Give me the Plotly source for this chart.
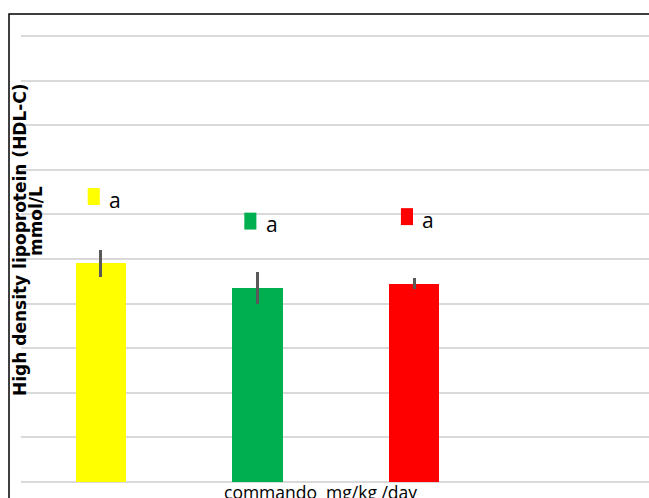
import plotly.graph_objects as go

# ---- data ----
groups = ["Control", "Dose 1", "Dose 2"]
hdl_values = [0.98, 0.87, 0.89]
hdl_errors = [0.06, 0.07, 0.025]
sig_letters = ["a", "a", "a"]
bar_colors = ["#FFFF00", "#00B050", "#FF0000"]
y_title_line1 = "High density lipoprotein (HDL-C)"
y_title_line2 = "mmol/L"
x_title = "commando  mg/kg /day"

# ---- style ----
LABEL_OFFSET = 0.30
BAR_WIDTH = 0.32

xpos = list(range(len(groups)))

fig = go.Figure()
fig.add_trace(go.Bar(
    x=xpos, y=hdl_values, width=BAR_WIDTH,
    marker=dict(color=bar_colors, line=dict(width=0)),
    error_y=dict(type="data", array=hdl_errors, visible=True,
                 color="#595959", thickness=3, width=0),
    showlegend=False, hoverinfo="skip",
))

shapes = []
annotations = []
for i, (v, lt, c) in enumerate(zip(hdl_values, sig_letters, bar_colors)):
    ly = v + LABEL_OFFSET
    shapes.append(dict(type="rect", xref="x", yref="y",
                       x0=i - 0.084, x1=i - 0.007,
                       y0=ly - 0.038, y1=ly + 0.038,
                       fillcolor=c, line=dict(width=0), layer="above"))
    annotations.append(dict(x=i + 0.09, y=ly, xref="x", yref="y",
                            text=lt, showarrow=False, yshift=-3,
                            font=dict(family="Open Sans", size=21, color="black"),
                            xanchor="center", yanchor="middle"))

# plot area: 31..487 px vertically (456 px), width 628 px
PH = 456.0
def py(pix):  # window pixel row -> paper y
    return (487.0 - pix) / PH

shapes.append(dict(type="rect", xref="paper", yref="paper",
                   x0=-0.0191, x1=1.1, y0=-0.2, y1=py(14),
                   line=dict(color="black", width=1.5), fillcolor="rgba(0,0,0,0)",
                   layer="below"))

annotations.append(dict(x=-0.0016, y=py(239), xref="paper", yref="paper",
                        text=y_title_line1, showarrow=False, textangle=-90,
                        font=dict(family="DejaVu Sans", size=17, color="black", weight="bold"),
                        xanchor="center", yanchor="middle"))
annotations.append(dict(x=0.0240, y=py(221), xref="paper", yref="paper",
                        text=y_title_line2, showarrow=False, textangle=-90,
                        font=dict(family="DejaVu Sans", size=17, color="black", weight="bold"),
                        xanchor="center", yanchor="middle"))
annotations.append(dict(x=0.477, y=py(482), xref="paper", yref="paper",
                        text=x_title, showarrow=False,
                        font=dict(family="Open Sans", size=17.5, color="black"),
                        xanchor="center", yanchor="top", yshift=4))

fig.update_layout(
    width=649, height=498,
    margin=dict(l=21, r=0, t=31, b=11),
    paper_bgcolor="white", plot_bgcolor="white",
    xaxis=dict(range=[-0.51, 3.5], showticklabels=False, showgrid=False,
               zeroline=False, showline=False, ticks=""),
    yaxis=dict(range=[-0.0224, 2.0224], tick0=0, dtick=0.2, showticklabels=False,
               showgrid=True, gridcolor="#D9D9D9", gridwidth=1.5,
               zeroline=False, showline=False, ticks=""),
    shapes=shapes, annotations=annotations,
    bargap=0,
)

fig.write_html("out.html",
               config={"displayModeBar": False},
               post_script="document.body.style.margin='0';document.body.style.overflow='hidden';")
